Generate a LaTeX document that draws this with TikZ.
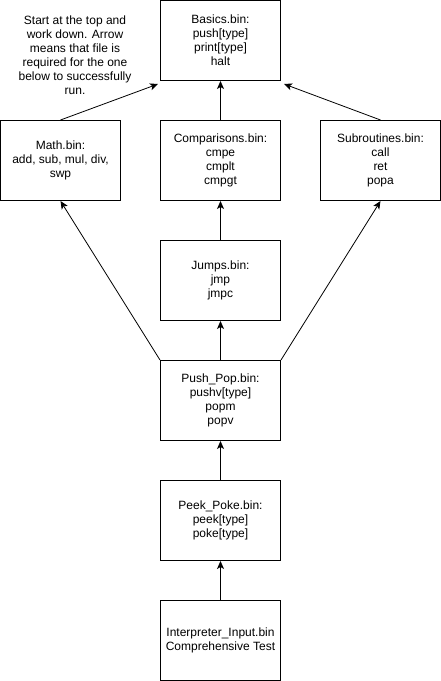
\documentclass[tikz,border=0pt]{standalone}
\usepackage{fontspec}
\setmainfont{Liberation Sans}
\usetikzlibrary{arrows.meta}
\begin{document}
\begin{tikzpicture}[x=1pt,y=-1pt,
	box/.style={draw,line width=1pt,minimum width=120pt,minimum height=80pt,inner sep=0pt,align=center,font=\fontsize{12}{14}\selectfont},
	dep/.style={-{Stealth[length=8pt,width=7pt,inset=2pt]},line width=0.8pt}]
		\useasboundingbox (0,0) rectangle (441,681);
		\node[align=center,font=\fontsize{12}{14}\selectfont] (note) at (75,55) {Start at the top and\\work down. Arrow\\means that file is\\required for the one\\below to successfully\\run.};
		\node[box] (basics) at (220.5,40.5) {Basics.bin:\\push[type]\\print[type]\\halt};
		\node[box] (math) at (60.5,160.5) {Math.bin:\\add, sub, mul, div,\\swp};
		\node[box] (cmp) at (220.5,160.5) {Comparisons.bin:\\cmpe\\cmplt\\cmpgt};
		\node[box] (sub) at (380.5,160.5) {Subroutines.bin:\\call\\ret\\popa};
		\node[box] (jumps) at (220.5,280.5) {Jumps.bin:\\jmp\\jmpc};
		\node[box] (pushpop) at (220.5,400.5) {Push\_Pop.bin:\\pushv[type]\\popm\\popv};
		\node[box] (peekpoke) at (220.5,520.5) {Peek\_Poke.bin:\\peek[type]\\poke[type]};
		\node[box] (interp) at (220.5,640.5) {Interpreter\_Input.bin\\Comprehensive Test};
		\draw[dep] (math.north) -- ([shift={(-2,3)}]basics.south west);
		\draw[dep] (cmp) -- (basics);
		\draw[dep] (sub.north) -- ([shift={(3,3)}]basics.south east);
		\draw[dep] (jumps) -- (cmp);
		\draw[dep] (pushpop) -- (jumps);
		\draw[dep] (pushpop.north west) -- (math.south);
		\draw[dep] (pushpop.north east) -- (sub.south);
		\draw[dep] (peekpoke) -- (pushpop);
		\draw[dep] (interp) -- (peekpoke);
	\end{tikzpicture}
\end{document}
